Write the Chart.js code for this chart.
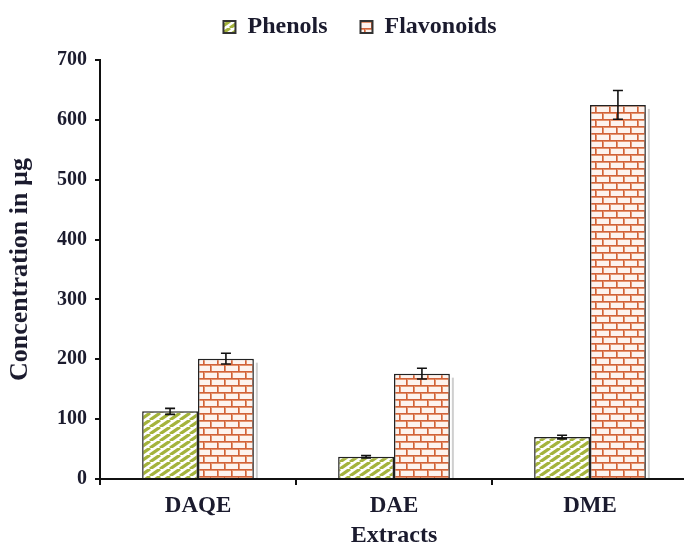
<!DOCTYPE html>
<html>
<head>
<meta charset="utf-8">
<script src="https://cdn.jsdelivr.net/npm/chart.js@4"></script>
<style>
  html, body { margin: 0; padding: 0; background: #fff; overflow: hidden; }
  #wrap { width: 688px; height: 548px; }
</style>
</head>
<body>
<div id="wrap"><canvas id="c" width="688" height="548"></canvas></div>
<script>
// Extract types and measured concentrations (µg)
const categories = ['DAQE', 'DAE', 'DME'];
const phenols = [113, 37, 70];
const flavonoids = [201, 176, 625];
const phenolsErr = [5, 2, 3];
const flavonoidsErr = [9, 9, 24];
const yTicks = [0, 100, 200, 300, 400, 500, 600, 700];

const TEXT = '#1b1b2e';
const SERIF = '"Liberation Serif", "DejaVu Serif", serif';

// Diagonal olive stripes for the phenols bars
function stripePattern() {
  const w = 10, h = 7;
  const c = document.createElement('canvas');
  c.width = w; c.height = h;
  const g = c.getContext('2d');
  g.fillStyle = '#ffffff';
  g.fillRect(0, 0, w, h);
  g.strokeStyle = '#a4b33c';
  g.lineWidth = 3.2;
  g.beginPath();
  for (let k = -w; k <= w; k += w) {
    g.moveTo(k, h);
    g.lineTo(k + w, 0);
  }
  g.stroke();
  return g.createPattern(c, 'repeat');
}

// Brick wall texture for the flavonoids bars
function brickPattern() {
  const w = 14, h = 14;
  const c = document.createElement('canvas');
  c.width = w; c.height = h;
  const g = c.getContext('2d');
  g.fillStyle = '#fdf3ee';
  g.fillRect(0, 0, w, h);
  // soft edge of the mortar
  g.fillStyle = '#e4936d';
  g.fillRect(0, 1, w, 1);
  g.fillRect(0, 8, w, 1);
  g.fillRect(1, 2, 1, 5);
  g.fillRect(8, 9, 1, 5);
  // mortar lines
  g.fillStyle = '#d0623a';
  g.fillRect(0, 0, w, 1);
  g.fillRect(0, 7, w, 1);
  g.fillRect(0, 1, 1, 6);
  g.fillRect(7, 8, 1, 6);
  return g.createPattern(c, 'repeat');
}

// Grey drop shadow on the right side of each flavonoids bar
const shadowPlugin = {
  id: 'barShadow',
  beforeDatasetsDraw(chart) {
    const ctx = chart.ctx;
    const meta = chart.getDatasetMeta(1);
    ctx.save();
    ctx.fillStyle = '#cfcfcf';
    meta.data.forEach(bar => {
      const top = Math.min(bar.y, bar.base);
      ctx.fillRect(bar.x + bar.width / 2 + 2, top + 4, 2, bar.base - top - 4);
    });
    ctx.restore();
  }
};

// Error bars with caps, from the named error arrays
const errorBarPlugin = {
  id: 'errorBars',
  afterDatasetsDraw(chart) {
    const ctx = chart.ctx;
    const y = chart.scales.y;
    ctx.save();
    ctx.strokeStyle = '#111';
    ctx.lineWidth = 1.6;
    chart.data.datasets.forEach((ds, i) => {
      const meta = chart.getDatasetMeta(i);
      meta.data.forEach((bar, j) => {
        const v = ds.data[j], e = ds.errors[j];
        const t = y.getPixelForValue(v + e);
        const b = y.getPixelForValue(v - e);
        const x = bar.x, cap = 5;
        ctx.beginPath();
        ctx.moveTo(x, t); ctx.lineTo(x, b);
        ctx.moveTo(x - cap, t); ctx.lineTo(x + cap, t);
        ctx.moveTo(x - cap, b); ctx.lineTo(x + cap, b);
        ctx.stroke();
      });
    });
    ctx.restore();
  }
};

// Nudge the legend block after layout so it sits right of centre, near the top
const legendShift = { dx: 16, dy: -11 };
const legendPlacePlugin = {
  id: 'legendPlace',
  afterLayout(chart) {
    const lg = chart.legend;
    if (!lg) return;
    lg.left += legendShift.dx; lg.right += legendShift.dx;
    lg.top += legendShift.dy; lg.bottom += legendShift.dy;
  }
};

new Chart(document.getElementById('c'), {
  type: 'bar',
  data: {
    labels: categories,
    datasets: [
      {
        label: 'Phenols',
        data: phenols,
        errors: phenolsErr,
        backgroundColor: stripePattern(),
        borderColor: '#222',
        borderWidth: 1.5,
        borderSkipped: 'bottom',
        categoryPercentage: 0.57,
        barPercentage: 1.0
      },
      {
        label: 'Flavonoids',
        data: flavonoids,
        errors: flavonoidsErr,
        backgroundColor: brickPattern(),
        borderColor: '#222',
        borderWidth: 1.5,
        borderSkipped: 'bottom',
        categoryPercentage: 0.57,
        barPercentage: 1.0
      }
    ]
  },
  options: {
    responsive: false,
    animation: false,
    layout: { padding: { top: -7, left: 0, right: 0, bottom: 0 } },
    plugins: {
      legend: {
        position: 'top',
        labels: {
          boxWidth: 12,
          boxHeight: 12,
          padding: 33,
          color: TEXT,
          font: { family: SERIF, size: 24, weight: 'bold' },
          generateLabels(chart) {
            return chart.data.datasets.map((ds, i) => ({
              text: ds.label,
              fillStyle: ds.backgroundColor,
              strokeStyle: '#333',
              lineWidth: 2,
              fontColor: TEXT,
              datasetIndex: i,
              hidden: false
            }));
          }
        }
      },
      tooltip: { enabled: false }
    },
    scales: {
      x: {
        grid: {
          offset: true,
          drawOnChartArea: false,
          drawTicks: true,
          tickLength: 6,
          color: '#111',
          lineWidth: 2
        },
        border: { display: true, color: '#111', width: 2 },
        ticks: {
          color: TEXT,
          padding: 7,
          font: { family: SERIF, size: 23, weight: 'bold' }
        },
        title: {
          display: true,
          text: 'Extracts',
          color: TEXT,
          padding: { top: 3, bottom: 0 },
          font: { family: SERIF, size: 24, weight: 'bold', lineHeight: 1.0 }
        },
        afterFit(scale) { scale.height = 69; }
      },
      y: {
        min: 0,
        max: 700,
        afterBuildTicks(scale) { scale.ticks = yTicks.map(v => ({ value: v })); },
        grid: {
          drawOnChartArea: false,
          drawTicks: true,
          tickLength: 5,
          color: '#111',
          lineWidth: 2
        },
        border: { display: true, color: '#111', width: 2 },
        ticks: {
          color: TEXT,
          padding: 8,
          font: { family: SERIF, size: 20, weight: 'bold' }
        },
        title: {
          display: true,
          text: 'Concentration in µg',
          color: TEXT,
          padding: { top: 7, bottom: 6 },
          font: { family: SERIF, size: 26, weight: 'bold', lineHeight: 1.0 }
        },
        afterFit(scale) { scale.width = 100; }
      }
    }
  },
  plugins: [shadowPlugin, errorBarPlugin, legendPlacePlugin]
});
</script>
</body>
</html>
